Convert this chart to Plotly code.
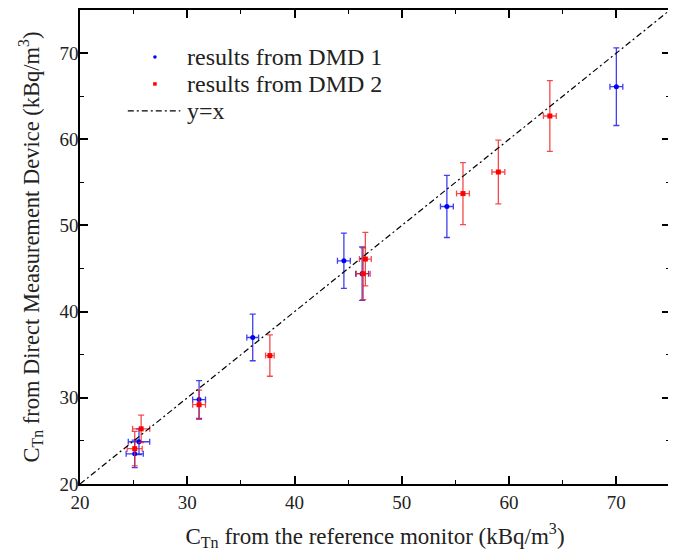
import plotly.graph_objects as go

# DMD 1 (blue)
dmd1_x = [25.1, 25.5, 31.1, 36.1, 44.6, 46.3, 54.2, 70.0]
dmd1_y = [23.5, 24.9, 29.8, 37.0, 45.9, 44.4, 52.2, 66.1]
dmd1_ex = [0.8, 1.0, 0.6, 0.55, 0.6, 0.6, 0.6, 0.6]
dmd1_ey = [1.6, 1.5, 2.2, 2.7, 3.2, 3.1, 3.6, 4.5]

# DMD 2 (red)
dmd2_x = [25.1, 25.7, 31.1, 37.7, 46.6, 46.4, 55.7, 59.0, 63.8]
dmd2_y = [24.1, 26.4, 29.2, 34.9, 46.1, 44.4, 53.7, 56.2, 62.7]
dmd2_ex = [0.7, 0.8, 0.6, 0.4, 0.55, 0.65, 0.6, 0.6, 0.6]
dmd2_ey = [2.0, 1.6, 1.7, 2.4, 3.1, 3.0, 3.6, 3.7, 4.1]

line_x = [20, 75]
line_y = [20, 75]

legend_labels = ["results from DMD 1", "results from DMD 2", "y=x"]

FONT = "Liberation Serif"
BLUE = "#0000ff"
RED = "#ff0000"
DASH = "6px,3px,2px,3px"

fig = go.Figure()
fig.add_trace(go.Scatter(
    x=dmd1_x, y=dmd1_y, mode="markers", name=legend_labels[0],
    marker=dict(color=BLUE, size=5, symbol="circle"),
    error_x=dict(type="data", array=dmd1_ex, color="rgba(30,30,235,0.85)", thickness=1.3, width=3),
    error_y=dict(type="data", array=dmd1_ey, color="rgba(30,30,235,0.85)", thickness=1.3, width=3),
    showlegend=False))
fig.add_trace(go.Scatter(
    x=dmd2_x, y=dmd2_y, mode="markers", name=legend_labels[1],
    marker=dict(color=RED, size=5, symbol="square"),
    error_x=dict(type="data", array=dmd2_ex, color="rgba(240,30,30,0.8)", thickness=1.3, width=3),
    error_y=dict(type="data", array=dmd2_ey, color="rgba(240,30,30,0.8)", thickness=1.3, width=3),
    showlegend=False))
fig.add_trace(go.Scatter(
    x=line_x, y=line_y, mode="lines", name=legend_labels[2],
    line=dict(color="black", width=1.2, dash=DASH),
    showlegend=False))

# ---- manual legend (paper coordinates) ----
row_y = [0.901, 0.844, 0.787]
sym_x = 0.127
text_x = 0.178
rx, ry = 0.0030, 0.0037
fig.add_shape(type="circle", xref="paper", yref="paper",
              x0=sym_x - rx, x1=sym_x + rx, y0=row_y[0] - ry, y1=row_y[0] + ry,
              fillcolor=BLUE, line=dict(width=0))
fig.add_shape(type="rect", xref="paper", yref="paper",
              x0=sym_x - rx, x1=sym_x + rx, y0=row_y[1] - ry, y1=row_y[1] + ry,
              fillcolor=RED, line=dict(width=0))
fig.add_shape(type="line", xref="paper", yref="paper",
              x0=0.081, x1=0.170, y0=row_y[2], y1=row_y[2],
              line=dict(color="black", width=1.2, dash=DASH))
for lbl, yy in zip(legend_labels, row_y):
    fig.add_annotation(text=lbl, xref="paper", yref="paper", x=text_x, y=yy,
                       xanchor="left", yanchor="middle", showarrow=False,
                       font=dict(family=FONT, size=24, color="#222"))

axis_common = dict(
    showline=True, linecolor="black", linewidth=1.5, mirror="ticks",
    ticks="inside", ticklen=8, tickwidth=1.5, tickcolor="black",
    showgrid=False, zeroline=False, automargin=False,
    tickfont=dict(family=FONT, size=19, color="#222"),
    minor=dict(ticks="inside", ticklen=4, tickwidth=1.2, tickcolor="black", dtick=5, showgrid=False),
)

fig.update_layout(
    width=676, height=560,
    margin=dict(l=72, r=14, t=2, b=84),
    paper_bgcolor="white", plot_bgcolor="white",
    font=dict(family=FONT, size=19, color="#222"),
    xaxis=dict(range=[20, 75], dtick=10, tick0=20,
               title=dict(text="C<sub>Tn</sub> from the reference monitor (kBq/m<sup>3</sup>)",
                          font=dict(family=FONT, size=23, color="#222"), standoff=16),
               **axis_common),
    yaxis=dict(range=[20, 75], dtick=10, tick0=20, ticklabelstandoff=-4,
               title=dict(text="C<sub>Tn</sub> from Direct Measurement Device (kBq/m<sup>3</sup>)",
                          font=dict(family=FONT, size=22.5, color="#222"), standoff=14),
               **axis_common),
    showlegend=False,
)

fig.write_html("out.html")
